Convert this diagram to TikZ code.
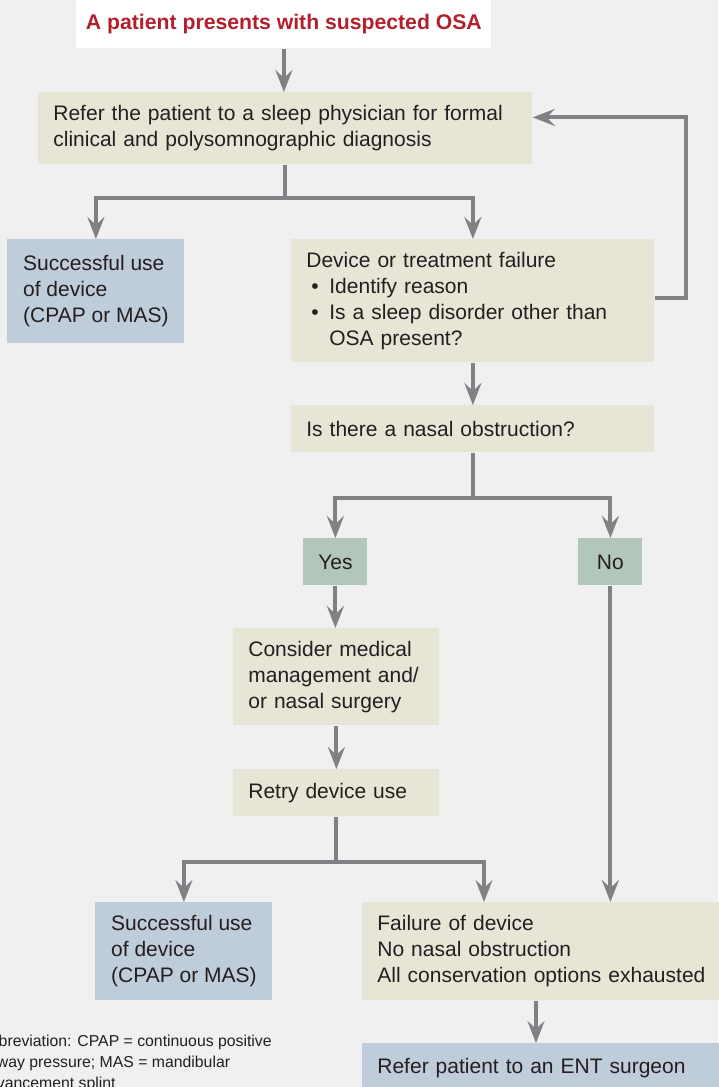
\documentclass[tikz,border=0pt]{standalone}
\usepackage{fontspec}
\setmainfont{Liberation Sans}
\usetikzlibrary{arrows.meta}
\definecolor{bg}{HTML}{F0F0F0}
\definecolor{beige}{HTML}{E7E6D6}
\definecolor{steel}{HTML}{BFCCD9}
\definecolor{sage}{HTML}{B2C7BA}
\definecolor{wire}{HTML}{808085}
\definecolor{osared}{HTML}{B3202C}
\definecolor{ink}{HTML}{231F20}
\begin{document}
\begin{tikzpicture}[x=0.5pt,y=-0.5pt]
	\tikzstyle{box}=[anchor=north west,inner xsep=7.5pt,inner ysep=0pt,align=left,text=ink,font=\fontsize{10.5}{13}\selectfont]
	\tikzstyle{plain}=[box,fill=beige]
	\tikzstyle{good}=[box,fill=steel,minimum width=88.5pt,inner xsep=0pt]
	\tikzstyle{answer}=[box,fill=sage,align=center,minimum width=32pt,minimum height=23.5pt,inner xsep=0pt]
	\tikzstyle{arr}=[draw=wire,line width=2pt,-{Stealth[length=11pt,width=8.5pt,inset=4pt]}]
	\useasboundingbox (0,0) rectangle (718,1087);
	\fill[bg] (0,0) rectangle (718,1087);
	\node[box,fill=white,text=osared,font=\fontsize{10.6}{12}\selectfont\bfseries,minimum width=207.5pt,minimum height=24pt,align=center,inner xsep=0pt] (osa) at (76,0) {A patient presents with suspected OSA};
	\node[plain,text width=232pt,minimum height=36pt] (refer) at (38,92) {Refer the patient to a sleep physician for formal\\clinical and polysomnographic diagnosis};
	\node[good,minimum height=52pt] (ok_1) at (7,239) {Successful use\\of device\\(CPAP or MAS)};
	\node[plain,text width=166.5pt,minimum height=61.5pt] (fail_1) at (291,239) {Device or treatment failure\\
		\makebox[11.5pt][l]{\hspace{2.5pt}\textbullet}Identify reason\\
		\makebox[11.5pt][l]{\hspace{2.5pt}\textbullet}Is a sleep disorder other than\\
		\hspace*{11.5pt}OSA present?};
	\node[plain,text width=166.5pt,minimum height=23.5pt] (nasal) at (291,405) {Is there a nasal obstruction?};
	\node[answer] (yes) at (303,538) {Yes};
	\node[answer] (no) at (578,538) {No};
	\node[plain,text width=88pt,minimum height=48.5pt] (medical) at (233,628) {Consider medical\\management and/\\or nasal surgery};
	\node[plain,text width=88pt,minimum height=23.5pt] (retry) at (233,769) {Retry device use};
	\node[good,minimum height=49pt] (ok_2) at (95,902) {Successful use\\of device\\(CPAP or MAS)};
	\node[plain,text width=172pt,minimum height=49pt] (fail_2) at (362,902) {Failure of device\\No nasal obstruction\\All conservation options exhausted};
	\node[plain,fill=steel,text width=172pt,minimum height=25pt] (ent) at (362,1043) {Refer patient to an ENT surgeon};
	\node[box,inner xsep=0pt,font=\fontsize{7.9}{10.5}\selectfont] (note) at (-21,1035) {Abbreviation: CPAP = continuous positive\\airway pressure; MAS = mandibular\\advancement splint};
	\draw[arr] (osa) -- (osa |- refer.north);
	\draw[arr] (refer.south) -- ++(0,-16.5pt) -| (ok_1.north);
	\draw[arr] (refer.south) -- ++(0,-16.5pt) -| (fail_1.north);
	\draw[arr] ([yshift=1.25pt]fail_1.east) -- ++(15.5pt,0) |- ([yshift=5.5pt]refer.east);
	\draw[arr] (fail_1) -- (nasal);
	\draw[arr] (nasal.south) -- ++(0,-22.5pt) -| (yes.north);
	\draw[arr] (nasal.south) -- ++(0,-22.5pt) -| (no.north);
	\draw[arr] (yes) -- (yes |- medical.north);
	\draw[arr] (medical) -- (retry);
	\draw[arr] (retry.south) -- ++(0,-22.5pt) -| (ok_2.north);
	\draw[arr] (retry.south) -- ++(0,-22.5pt) -| ([xshift=61pt]fail_2.north west);
	\draw[arr] (no) -- (no |- fail_2.north);
	\draw[arr] ([xshift=87pt]fail_2.south west) -- ([xshift=87pt]ent.north west);
\end{tikzpicture}
\end{document}
